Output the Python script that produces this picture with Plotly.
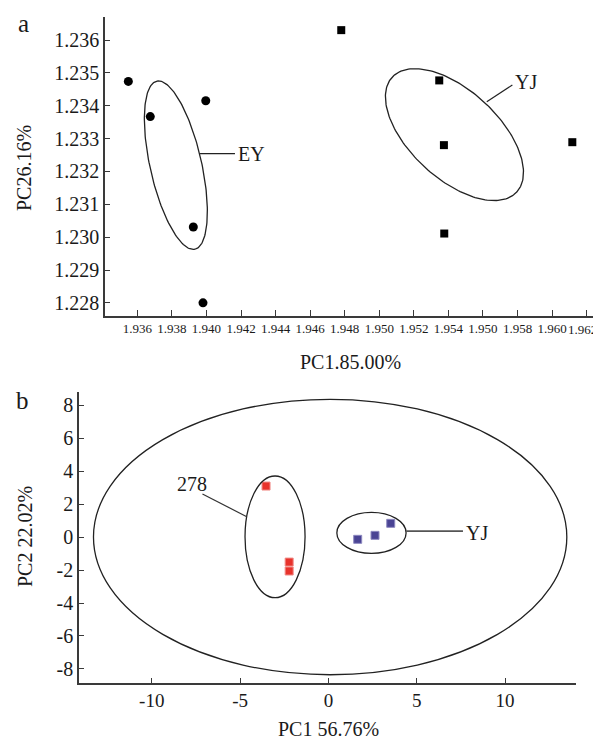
import numpy as np
import plotly.graph_objects as go

# ---------------- Panel a data ----------------
a_ey_x = [1.93548, 1.93675, 1.93996, 1.93924, 1.93980]
a_ey_y = [1.23474, 1.23367, 1.23415, 1.23031, 1.22800]
a_yj_x = [1.94780, 1.95347, 1.95374, 1.96117, 1.95376]
a_yj_y = [1.23630, 1.23477, 1.23280, 1.23289, 1.23011]
a_xticks = [1.936, 1.938, 1.940, 1.942, 1.944, 1.946, 1.948, 1.950,
            1.952, 1.954, 1.956, 1.958, 1.960, 1.962]
a_xticktext = ["1.936", "1.938", "1.940", "1.942", "1.944", "1.946", "1.948", "1.950",
               "1.952", "1.954", "1.950", "1.958", "1.960", "1.962"]
a_yticks = [1.228, 1.229, 1.230, 1.231, 1.232, 1.233, 1.234, 1.235, 1.236]
a_yticktext = ["1.228", "1.229", "1.230", "1.231", "1.232", "1.233", "1.234", "1.235", "1.236"]
# ellipse: centre and two conjugate semi-axis vectors (data units)
a_ey_ell = (1.93823, 1.23219, 0.001102, -0.002558, 0.001452, 0.000173)
a_yj_ell = (1.95435, 1.23312, 0.003604, -0.001747, 0.001724, 0.000988)

# ---------------- Panel b data ----------------
b_278_x = [-3.53, -2.22, -2.22]
b_278_y = [3.09, -1.52, -2.06]
b_yj_x = [1.66, 2.64, 3.53]
b_yj_y = [-0.14, 0.10, 0.83]
b_xticks = [-10, -5, 0, 5, 10]
b_yticks = [-8, -6, -4, -2, 0, 2, 4, 6, 8]
# axis-aligned ellipses: cx, cy, rx, ry
b_big_ell = (0.1, 0.0, 13.4, 8.35)
b_278_ell = (-3.02, 0.01, 1.70, 3.69)
b_yj_ell = (2.44, 0.25, 1.96, 1.24)

PAGE_W, PAGE_H = 601, 742
OFF = 8  # default body margin of the page
W, H = PAGE_W - OFF, PAGE_H - OFF
FONT = "Liberation Serif"
TXT = "#1a1a1a"
AX = "#3a3a3a"


def px(x):
    return (x - OFF) / W


def py(y):
    return 1 - (y - OFF) / H


def conj_ellipse(e, n=200):
    cx, cy, ux, uy, vx, vy = e
    t = np.linspace(0, 2 * np.pi, n)
    return cx + ux * np.cos(t) + vx * np.sin(t), cy + uy * np.cos(t) + vy * np.sin(t)


fig = go.Figure()

# ----- panel a -----
for e in (a_ey_ell, a_yj_ell):
    ex, ey = conj_ellipse(e)
    fig.add_trace(go.Scatter(x=ex, y=ey, mode="lines", line=dict(color="#222", width=1.3),
                             xaxis="x", yaxis="y", hoverinfo="skip", showlegend=False))
fig.add_trace(go.Scatter(x=a_ey_x, y=a_ey_y, mode="markers", xaxis="x", yaxis="y",
                         marker=dict(symbol="circle", size=9, color="#000"),
                         name="EY", showlegend=False))
fig.add_trace(go.Scatter(x=a_yj_x, y=a_yj_y, mode="markers", xaxis="x", yaxis="y",
                         marker=dict(symbol="square", size=8, color="#000"),
                         name="YJ", showlegend=False))

# ----- panel b -----
shapes = []
for (cx, cy, rx, ry) in (b_big_ell, b_278_ell, b_yj_ell):
    shapes.append(dict(type="circle", xref="x2", yref="y2", x0=cx - rx, x1=cx + rx,
                       y0=cy - ry, y1=cy + ry, line=dict(color="#222", width=1.3)))
fig.add_trace(go.Scatter(x=b_278_x, y=b_278_y, mode="markers", xaxis="x2", yaxis="y2",
                         marker=dict(symbol="square", size=8, color="#e8332c",
                                     line=dict(color="#f08a86", width=1)),
                         name="278", showlegend=False))
fig.add_trace(go.Scatter(x=b_yj_x, y=b_yj_y, mode="markers", xaxis="x2", yaxis="y2",
                         marker=dict(symbol="square", size=8, color="#4a4494",
                                     line=dict(color="#8e8ac0", width=1)),
                         name="YJ", showlegend=False))

# label leader lines
shapes += [
    dict(type="line", xref="x", yref="y", x0=1.93963, y0=1.23254, x1=1.94165, y1=1.23254,
         line=dict(color="#222", width=1.2)),
    dict(type="line", xref="x", yref="y", x0=1.95622, y0=1.23412, x1=1.95770, y1=1.23463,
         line=dict(color="#222", width=1.2)),
    dict(type="line", xref="x2", yref="y2", x0=-7.13, y0=2.61, x1=-4.62, y1=1.23,
         line=dict(color="#333", width=1.2)),
    dict(type="line", xref="x2", yref="y2", x0=4.40, y0=0.36, x1=7.62, y1=0.36,
         line=dict(color="#555", width=1.6)),
]

ann = []


def add_text(text, x, y, xref, yref, size=20, xanchor="center", yanchor="middle", textangle=0):
    ann.append(dict(text=text, x=x, y=y, xref=xref, yref=yref, showarrow=False,
                    xanchor=xanchor, yanchor=yanchor, textangle=textangle,
                    font=dict(family=FONT, size=size, color=TXT)))


add_text("EY", 1.94172, 1.23254, "x", "y", xanchor="left")
add_text("YJ", 1.95772, 1.23473, "x", "y", xanchor="left")
add_text("278", -7.73, 3.21, "x2", "y2")
add_text("YJ", 7.66, 0.22, "x2", "y2", xanchor="left")
add_text("a", px(23), py(23), "paper", "paper", size=25)
add_text("b", px(22), py(400), "paper", "paper", size=25)
add_text("PC1.85.00%", px(350), py(362), "paper", "paper", size=20)
add_text("PC26.16%", px(24), py(168), "paper", "paper", size=20, textangle=-90)
add_text("PC1 56.76%", px(328), py(742), "paper", "paper", size=20, yanchor="bottom")
add_text("PC2 22.02%", px(25), py(537), "paper", "paper", size=20, textangle=-90)
# the last x tick label of panel a sits at the page edge; keep it inside the page
add_text(a_xticktext[-1], px(599), py(330), "paper", "paper", size=13, xanchor="right")

common = dict(showline=True, linecolor=AX, linewidth=1.5, showgrid=False, zeroline=False,
              ticks="inside", tickcolor=AX, tickwidth=1.3, mirror=False)

fig.update_layout(
    width=W, height=H, margin=dict(l=0, r=0, t=0, b=0),
    paper_bgcolor="white", plot_bgcolor="white",
    font=dict(family=FONT, color=TXT),
    shapes=shapes, annotations=ann,
    xaxis=dict(domain=[px(105), px(596)], range=[1.93413, 1.96254], anchor="y",
               tickvals=a_xticks, ticktext=a_xticktext[:-1] + [""], ticklen=6,
               tickfont=dict(family=FONT, size=13, color=TXT), **common),
    yaxis=dict(domain=[py(316), py(17)], range=[1.2276, 1.2367], anchor="x",
               tickvals=a_yticks, ticktext=a_yticktext, ticklen=5,
               tickfont=dict(family=FONT, size=20, color=TXT), **common),
    xaxis2=dict(domain=[px(79), px(576)], range=[-14.12, 14.02], anchor="y2",
                tickvals=b_xticks, ticktext=[str(v) for v in b_xticks], ticklen=5,
                tickfont=dict(family=FONT, size=19, color=TXT), **common),
    yaxis2=dict(domain=[py(682.5), py(391.7)], range=[-8.82, 8.81], anchor="x2",
                tickvals=b_yticks, ticktext=[str(v) for v in b_yticks], ticklen=5,
                tickfont=dict(family=FONT, size=20, color=TXT), **common),
)

fig.write_html("out.html")
